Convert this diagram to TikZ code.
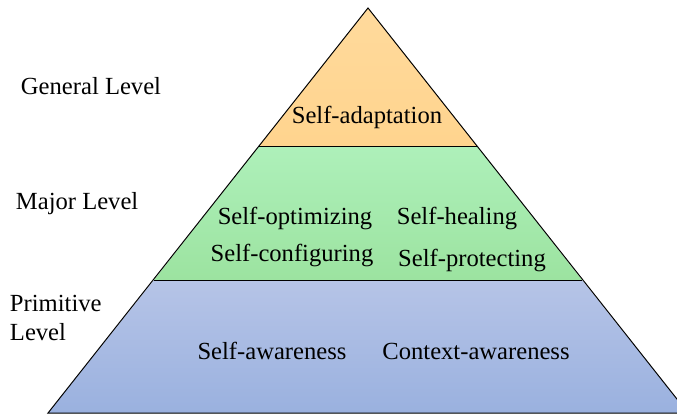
\documentclass[tikz,border=0pt]{standalone}
\usepackage{fontspec}
\setmainfont{Liberation Serif}
\definecolor{topfill}{HTML}{FFDA9C}
\definecolor{topfillb}{HTML}{FFD48E}
\definecolor{midfill}{HTML}{AEF0BA}
\definecolor{midfillb}{HTML}{9CE3A0}
\definecolor{lowfill}{HTML}{B6C4E7}
\definecolor{lowfillb}{HTML}{9AB1DF}
\tikzset{
  lvl/.style={font=\fontsize{17.5}{20}\selectfont, align=left, anchor=west},
  txt/.style={font=\fontsize{17.5}{20}\selectfont}
}
\begin{document}
\begin{tikzpicture}[x=0.025cm, y=-0.025cm]
            \useasboundingbox (0,0) rectangle (677,417);
            % corners of the pyramid
            \coordinate (apex) at (368,8);
            \coordinate (tl) at (259,146);
            \coordinate (tr) at (477,146);
            \coordinate (ml) at (154,280);
            \coordinate (mr) at (582,280);
            \coordinate (bl) at (48,413);
            \coordinate (br) at (688,413);
            % three levels
            \shade[top color=topfill, bottom color=topfillb] (apex) -- (tl) -- (tr) -- cycle;
            \shade[top color=midfill, bottom color=midfillb] (tl) -- (tr) -- (mr) -- (ml) -- cycle;
            \shade[top color=lowfill, bottom color=lowfillb] (ml) -- (mr) -- (br) -- (bl) -- cycle;
            \draw[line width=0.7pt] (bl) -- (apex) -- (br) -- cycle;
            \draw[line width=0.7pt] (tl) -- (tr);
            \draw[line width=0.7pt] (ml) -- (mr);
            % level names
            \node[lvl] (general) at (16,86) {General Level};
            \node[lvl] (major) at (11,204) {Major Level};
            \node[lvl] (primitive) at (5,318) {Primitive\\Level};
            % properties
            \node[txt] (adapt) at (367,117) {Self-adaptation};
            \node[txt] (optim) at (295,218) {Self-optimizing};
            \node[txt] (config) at (292,255) {Self-configuring};
            \node[txt] (heal) at (457,218) {Self-healing};
            \node[txt] (protect) at (472,260) {Self-protecting};
            \node[txt] (aware) at (272,351) {Self-awareness};
            \node[txt] (context) at (476,351) {Context-awareness};
          \end{tikzpicture}
\end{document}
